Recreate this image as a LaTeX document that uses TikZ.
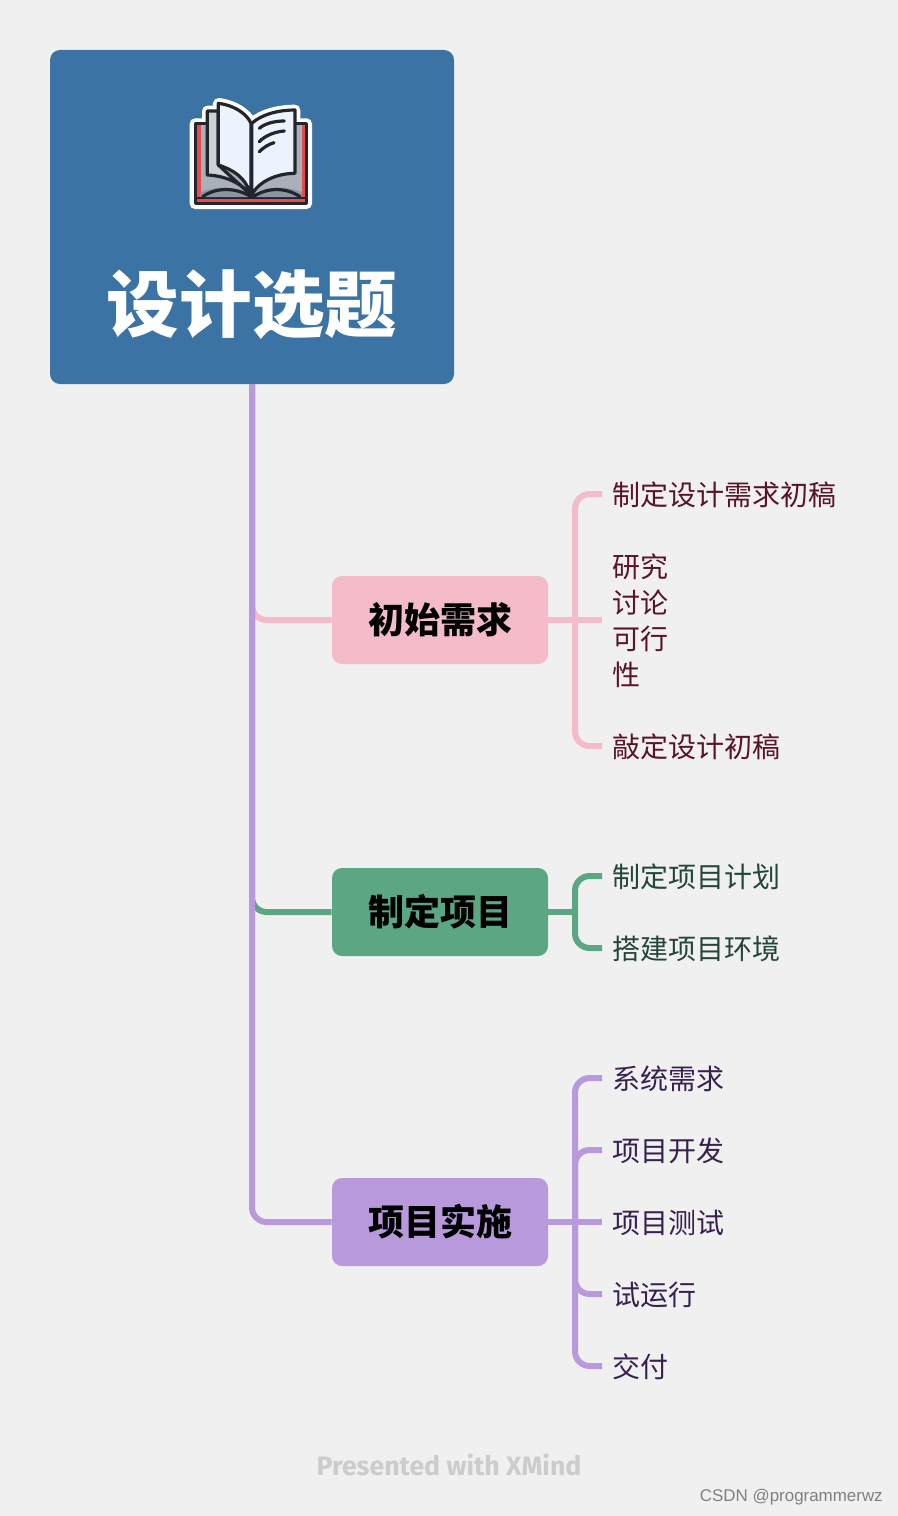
\documentclass[tikz,border=0pt]{standalone}
\usepackage{fontspec}
\setmainfont{Noto Sans CJK SC}
\newfontfamily\xmfont{Fira Sans}
\newfontfamily\csfont{Liberation Sans}
\usetikzlibrary{positioning}
\definecolor{bgcol}{HTML}{F0F0F0}
\definecolor{rootcol}{HTML}{3C73A5}
\definecolor{pinkcol}{HTML}{F3BCC8}
\definecolor{greencol}{HTML}{5BA683}
\definecolor{purplecol}{HTML}{B899DB}
\definecolor{pinktext}{HTML}{5A1428}
\definecolor{greentext}{HTML}{24453A}
\definecolor{purpletext}{HTML}{38204F}
\definecolor{inkcol}{HTML}{22252B}
\definecolor{bookred}{HTML}{E84A4F}
\definecolor{bookgray}{HTML}{A9B0BA}
\definecolor{bookdark}{HTML}{8E95A2}
\definecolor{booklight}{HTML}{CBD1D6}
\definecolor{bookpage}{HTML}{EDF3FE}
\tikzset{branchbox/.style={rounded corners=7.5pt,minimum width=162pt,minimum height=66pt,
                           inner sep=0pt,font=\bfseries\fontsize{27}{27}\selectfont},
         leaf/.style={anchor=west,inner xsep=7.5pt,inner ysep=0pt,align=left,
                      font=\fontsize{21}{27}\selectfont},
         wire/.style={line width=4.5pt,rounded corners=11pt},
         bookline/.style={draw=inkcol,line width=2.4pt,line join=round,line cap=round}}

\begin{document}
\begin{tikzpicture}[x=0.75pt,y=-0.75pt]
\useasboundingbox[fill=bgcol] (0,0) rectangle (898,1516);

\node[fill=rootcol,rounded corners=7.5pt,minimum width=303pt,minimum height=250.5pt,inner sep=0pt] (root) at (252,217) {};
\node[white,inner sep=0pt,font=\bfseries\fontsize{54.5}{54.5}\selectfont] (title) at (252,305) {设计选题};

\node[branchbox,fill=pinkcol] (B1) at (440,620) {初始需求};
\node[branchbox,fill=greencol] (B2) at (440,912) {制定项目};
\node[branchbox,fill=purplecol] (B3) at (440,1222) {项目实施};

\node[leaf,pinktext] (A1) at (602,495) {制定设计需求初稿};
\node[leaf,pinktext] (A2) at (602,621) {研究\\讨论\\可行\\性};
\node[leaf,pinktext] (A3) at (602,747) {敲定设计初稿};

\node[leaf,greentext] (G1) at (602,877) {制定项目计划};
\node[leaf,greentext] (G2) at (602,949) {搭建项目环境};

\node[leaf,purpletext] (P1) at (602,1079) {系统需求};
\node[leaf,purpletext] (P2) at (602,1151) {项目开发};
\node[leaf,purpletext] (P3) at (602,1223) {项目测试};
\node[leaf,purpletext] (P4) at (602,1295) {试运行};
\node[leaf,purpletext] (P5) at (602,1367) {交付};

\coordinate (J1) at (575,620);
\coordinate (J2) at (575,912);
\coordinate (J3) at (575,1222);

\draw[wire,pinkcol] (root.south) |- (B1.west);
\draw[wire,greencol] (root.south) |- (B2.west);
\draw[wire,purplecol] (root.south) |- (B3.west);

\draw[wire,pinkcol] (B1.east) -- ([yshift=.75pt]A2.west);
\draw[wire,pinkcol] ([yshift=.75pt]A1.west) -| (J1) |- ([yshift=.75pt]A3.west);

\draw[wire,greencol] (B2.east) -- (J2);
\draw[wire,greencol] ([yshift=.75pt]G1.west) -| (J2) |- ([yshift=.75pt]G2.west);

\draw[wire,purplecol] (B3.east) -- ([yshift=.75pt]P3.west);
\draw[wire,purplecol] ([yshift=.75pt]P1.west) -| (J3) |- ([yshift=.75pt]P5.west);
\draw[wire,purplecol] ([yshift=.75pt]P2.west) -| (J3);
\draw[wire,purplecol] ([yshift=.75pt]P4.west) -| (J3);

% book icon, in units of a third of a pixel
\begin{scope}[shift={(170,85)},x=0.25pt,y=-0.25pt]
\draw[white,fill=white,line width=8pt,line join=round]
  (75,116) -- (112,116) -- (112,78) -- (143,78) -- (145,55)
  .. controls (190,60) and (230,85) .. (245,115)
  .. controls (280,85) and (330,75) .. (375,75)
  -- (375,116) -- (410,116) -- (410,356) -- (75,356) -- cycle;
\draw[bookline,fill=bookred] (76,116) rectangle (410,356);
\fill[bookgray] (92,120) rectangle (396,336);
\fill[inkcol] (76,336) rectangle (410,342);
\fill[bookdark] (92,336) -- (92,322) .. controls (140,300) and (200,305) .. (245,335)
  .. controls (290,305) and (345,300) .. (396,322) -- (396,336) -- cycle;
\draw[bookline,fill=booklight] (112,78) -- (145,78) -- (145,240) -- (243,330)
  .. controls (210,290) and (160,272) .. (112,270) -- cycle;
\draw[bookline,fill=bookpage] (145,55) .. controls (190,60) and (230,85) .. (243,115)
  -- (243,330) .. controls (225,275) and (190,255) .. (145,240) -- cycle;
\draw[bookline,fill=bookpage] (245,115) .. controls (280,85) and (330,75) .. (375,75)
  -- (375,265) .. controls (320,265) and (265,290) .. (245,330) -- cycle;
\draw[bookline] (268,130) .. controls (285,115) and (315,108) .. (343,108);
\draw[bookline] (268,170) .. controls (285,152) and (315,140) .. (343,138);
\draw[bookline] (268,200) .. controls (280,188) and (295,178) .. (312,173);
\draw[bookline] (98,335) .. controls (140,305) and (200,308) .. (243,335);
\draw[bookline] (250,335) .. controls (290,308) and (345,305) .. (390,335);
\end{scope}

\node[inner sep=0pt,text=black!20,font=\xmfont\bfseries\fontsize{20}{20}\selectfont] (xmind) at (449,1465) {Presented with XMind};
\node[inner sep=0pt,anchor=east,text=black!50,font=\csfont\fontsize{12.7}{13}\selectfont] (csdn) at (883,1497) {CSDN @programmerwz};

\end{tikzpicture}
\end{document}
